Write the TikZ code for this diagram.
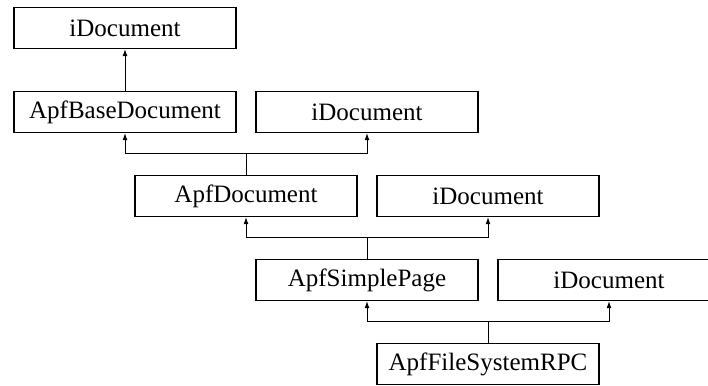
\documentclass[tikz,border=0pt]{standalone}
\usepackage{fontspec}
\setmainfont{Liberation Serif}
\usetikzlibrary{arrows.meta}

\begin{document}
\begin{tikzpicture}[x=1pt, y=1pt,
    cls/.style = {draw, line width=1.5pt, minimum width=222pt, minimum height=41pt, inner sep=0pt, font=\fontsize{25}{30}\selectfont},
    inh/.style = {-{Latex[length=7pt,width=5pt]}, line width=0.8pt}]
                \clip (0,0) rectangle (708,385);
                \node[cls] at (125,357) (I1) {iDocument};
                \node[cls] at (125,273) (B) {ApfBaseDocument};
                \node[cls] at (367,273) (I2) {iDocument};
                \node[cls] at (246,189) (D) {ApfDocument};
                \node[cls] at (488,189) (I3) {iDocument};
                \node[cls] at (367,105) (S) {ApfSimplePage};
                \node[cls] at (609,105) (I4) {iDocument};
                \node[cls] at (488,21) (R) {ApfFileSystemRPC};
                
                \draw [inh] (B) -- (I1);
                \draw [inh] (D.north) -- ++(0,21.5) -| (B.south);
                \draw [inh] (D.north) -- ++(0,21.5) -| (I2.south);
                \draw [inh] (S.north) -- ++(0,21.5) -| (D.south);
                \draw [inh] (S.north) -- ++(0,21.5) -| (I3.south);
                \draw [inh] (R.north) -- ++(0,21.5) -| (S.south);
                \draw [inh] (R.north) -- ++(0,21.5) -| (I4.south);
            \end{tikzpicture}
\end{document}
